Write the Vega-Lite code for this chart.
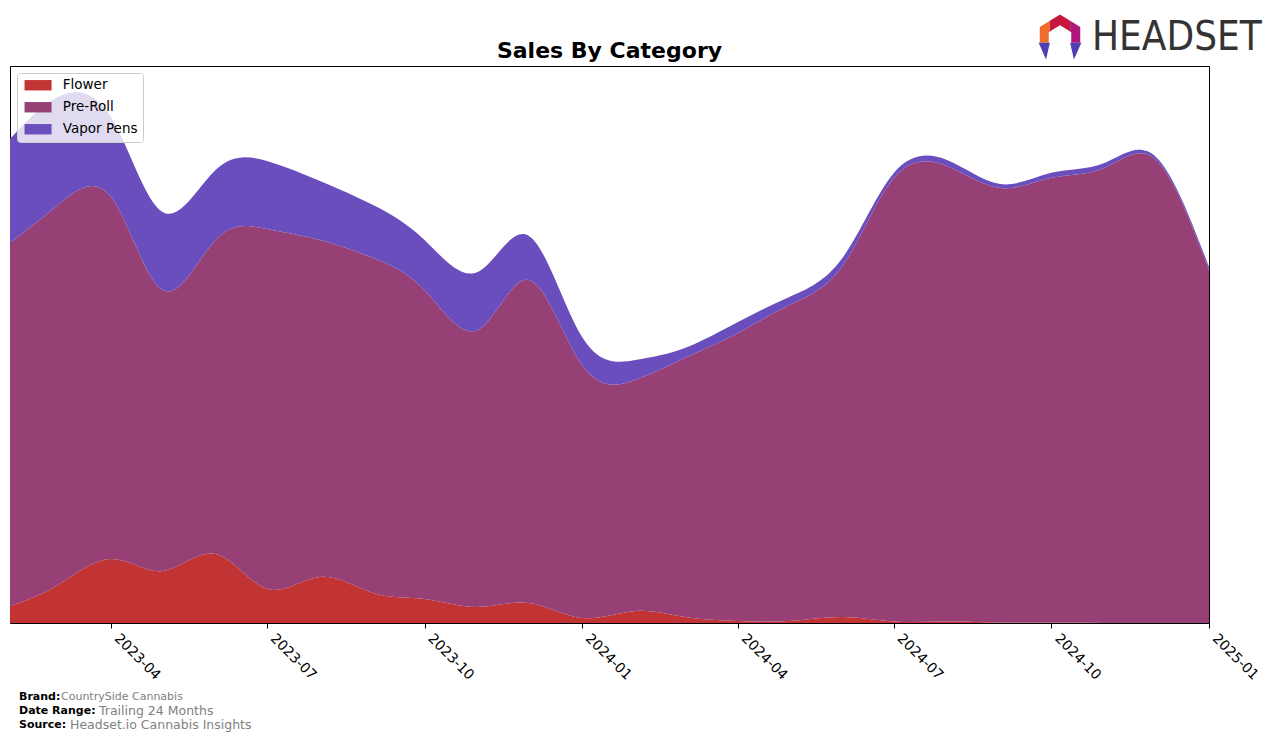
{
  "$schema": "https://vega.github.io/schema/vega-lite/v6.json",
  "width": 1199,
  "height": 557,
  "autosize": {"type": "none"},
  "padding": {"left": 10, "top": 66, "right": 67, "bottom": 119},
  "background": "white",
  "config": {
    "font": "DejaVu Sans",
    "view": {"stroke": "black", "strokeWidth": 1}
  },
  "layer": [
    {
      "data": {
        "values": [
          {"date": "2023-02-01", "category": "Flower", "sales": 17},
          {"date": "2023-03-01", "category": "Flower", "sales": 38},
          {"date": "2023-04-01", "category": "Flower", "sales": 64},
          {"date": "2023-05-01", "category": "Flower", "sales": 52},
          {"date": "2023-06-01", "category": "Flower", "sales": 69},
          {"date": "2023-07-01", "category": "Flower", "sales": 34},
          {"date": "2023-08-01", "category": "Flower", "sales": 46},
          {"date": "2023-09-01", "category": "Flower", "sales": 30},
          {"date": "2023-10-01", "category": "Flower", "sales": 24},
          {"date": "2023-11-01", "category": "Flower", "sales": 16},
          {"date": "2023-12-01", "category": "Flower", "sales": 20},
          {"date": "2024-01-01", "category": "Flower", "sales": 5},
          {"date": "2024-02-01", "category": "Flower", "sales": 12},
          {"date": "2024-03-01", "category": "Flower", "sales": 6},
          {"date": "2024-04-01", "category": "Flower", "sales": 2},
          {"date": "2024-05-01", "category": "Flower", "sales": 2},
          {"date": "2024-06-01", "category": "Flower", "sales": 6},
          {"date": "2024-07-01", "category": "Flower", "sales": 1.5},
          {"date": "2024-08-01", "category": "Flower", "sales": 1.5},
          {"date": "2024-09-01", "category": "Flower", "sales": 0.5},
          {"date": "2024-10-01", "category": "Flower", "sales": 0.2},
          {"date": "2024-11-01", "category": "Flower", "sales": 0.1},
          {"date": "2024-12-01", "category": "Flower", "sales": 0.1},
          {"date": "2025-01-01", "category": "Flower", "sales": 0.1},
          {"date": "2023-02-01", "category": "Pre-Roll", "sales": 363},
          {"date": "2023-03-01", "category": "Pre-Roll", "sales": 380},
          {"date": "2023-04-01", "category": "Pre-Roll", "sales": 362},
          {"date": "2023-05-01", "category": "Pre-Roll", "sales": 281},
          {"date": "2023-06-01", "category": "Pre-Roll", "sales": 314},
          {"date": "2023-07-01", "category": "Pre-Roll", "sales": 360},
          {"date": "2023-08-01", "category": "Pre-Roll", "sales": 337},
          {"date": "2023-09-01", "category": "Pre-Roll", "sales": 335},
          {"date": "2023-10-01", "category": "Pre-Roll", "sales": 309},
          {"date": "2023-11-01", "category": "Pre-Roll", "sales": 277},
          {"date": "2023-12-01", "category": "Pre-Roll", "sales": 323},
          {"date": "2024-01-01", "category": "Pre-Roll", "sales": 253},
          {"date": "2024-02-01", "category": "Pre-Roll", "sales": 231},
          {"date": "2024-03-01", "category": "Pre-Roll", "sales": 259},
          {"date": "2024-04-01", "category": "Pre-Roll", "sales": 288},
          {"date": "2024-05-01", "category": "Pre-Roll", "sales": 316},
          {"date": "2024-06-01", "category": "Pre-Roll", "sales": 351},
          {"date": "2024-07-01", "category": "Pre-Roll", "sales": 443.5},
          {"date": "2024-08-01", "category": "Pre-Roll", "sales": 455.5},
          {"date": "2024-09-01", "category": "Pre-Roll", "sales": 434.5},
          {"date": "2024-10-01", "category": "Pre-Roll", "sales": 445},
          {"date": "2024-11-01", "category": "Pre-Roll", "sales": 455},
          {"date": "2024-12-01", "category": "Pre-Roll", "sales": 463},
          {"date": "2025-01-01", "category": "Pre-Roll", "sales": 353},
          {"date": "2023-02-01", "category": "Vapor Pens", "sales": 104},
          {"date": "2023-03-01", "category": "Vapor Pens", "sales": 108},
          {"date": "2023-04-01", "category": "Vapor Pens", "sales": 80},
          {"date": "2023-05-01", "category": "Vapor Pens", "sales": 78},
          {"date": "2023-06-01", "category": "Vapor Pens", "sales": 70},
          {"date": "2023-07-01", "category": "Vapor Pens", "sales": 68},
          {"date": "2023-08-01", "category": "Vapor Pens", "sales": 59},
          {"date": "2023-09-01", "category": "Vapor Pens", "sales": 53},
          {"date": "2023-10-01", "category": "Vapor Pens", "sales": 50},
          {"date": "2023-11-01", "category": "Vapor Pens", "sales": 58},
          {"date": "2023-12-01", "category": "Vapor Pens", "sales": 44},
          {"date": "2024-01-01", "category": "Vapor Pens", "sales": 28},
          {"date": "2024-02-01", "category": "Vapor Pens", "sales": 20},
          {"date": "2024-03-01", "category": "Vapor Pens", "sales": 10},
          {"date": "2024-04-01", "category": "Vapor Pens", "sales": 11},
          {"date": "2024-05-01", "category": "Vapor Pens", "sales": 8},
          {"date": "2024-06-01", "category": "Vapor Pens", "sales": 8},
          {"date": "2024-07-01", "category": "Vapor Pens", "sales": 5},
          {"date": "2024-08-01", "category": "Vapor Pens", "sales": 6},
          {"date": "2024-09-01", "category": "Vapor Pens", "sales": 4},
          {"date": "2024-10-01", "category": "Vapor Pens", "sales": 5},
          {"date": "2024-11-01", "category": "Vapor Pens", "sales": 5},
          {"date": "2024-12-01", "category": "Vapor Pens", "sales": 3},
          {"date": "2025-01-01", "category": "Vapor Pens", "sales": 3}
        ]
      },
      "mark": {"type": "area", "interpolate": "natural", "clip": true},
      "encoding": {
        "x": {
          "field": "date",
          "type": "temporal",
          "scale": {"type": "utc", "domain": [{"year": 2023, "month": 2, "date": 1, "utc": true}, {"year": 2025, "month": 1, "date": 1, "utc": true}]},
          "axis": {
            "title": null,
            "labelExpr": "utcFormat(datum.value, '%Y-%m')",
            "values": [
              {"year": 2023, "month": 4, "date": 1, "utc": true},
              {"year": 2023, "month": 7, "date": 1, "utc": true},
              {"year": 2023, "month": 10, "date": 1, "utc": true},
              {"year": 2024, "month": 1, "date": 1, "utc": true},
              {"year": 2024, "month": 4, "date": 1, "utc": true},
              {"year": 2024, "month": 7, "date": 1, "utc": true},
              {"year": 2024, "month": 10, "date": 1, "utc": true},
              {"year": 2025, "month": 1, "date": 1, "utc": true}
            ],
            "grid": false,
            "domain": false,
            "ticks": true,
            "tickColor": "black",
            "tickSize": 5,
            "labelAngle": 45,
            "labelAlign": "left",
            "labelBaseline": "top",
            "labelFontSize": 14,
            "labelColor": "black",
            "labelPadding": 3,
            "labelOffset": 10,
            "labelFlush": false,
            "labelOverlap": false
          }
        },
        "y": {
          "field": "sales",
          "type": "quantitative",
          "stack": "zero",
          "scale": {"domain": [0, 557], "nice": false, "zero": true},
          "axis": null
        },
        "color": {
          "field": "category",
          "type": "nominal",
          "scale": {"domain": ["Flower", "Pre-Roll", "Vapor Pens"], "range": ["#c23433", "#964076", "#6a4ebd"]},
          "legend": {
            "title": null,
            "orient": "top-left",
            "offset": 7,
            "padding": 5.5,
            "fillColor": "rgba(255,255,255,0.8)",
            "strokeColor": "#cccccc",
            "cornerRadius": 3,
            "symbolType": "M-2.6,-1L2.6,-1L2.6,1L-2.6,1Z",
            "symbolSize": 108,
            "symbolStrokeWidth": 0,
            "symbolOpacity": 1,
            "symbolOffset": 8.8,
            "labelOffset": 18,
            "labelFontSize": 13.5,
            "labelColor": "black",
            "rowPadding": 7
          }
        },
        "order": {"field": "category", "sort": "ascending"}
      }
    },
    {
      "data": {"values": [{"t": "Sales By Category"}]},
      "mark": {"type": "text", "font": "DejaVu Sans", "fontWeight": "bold", "fontSize": 22, "color": "black", "align": "center", "baseline": "alphabetic", "x": 599.5, "y": -8},
      "encoding": {"text": {"field": "t"}}
    },
    {
      "data": {"values": [{"t": "HEADSET"}]},
      "mark": {"type": "text", "font": "DejaVu Sans Condensed", "fontSize": 40, "color": "#333333", "align": "left", "baseline": "middle", "x": 1082, "y": -28},
      "encoding": {"text": {"field": "t"}}
    },
    {
      "data": {"values": [{"p": "left"}]},
      "mark": {"type": "point", "filled": true, "shape": "M-0.9,0.25L-0.9,-0.45L-0.45,-0.72L-0.45,-0.25L-0.5,-0.2L-0.5,0.25Z", "size": 2025, "color": "#ef6c2a", "opacity": 1, "x": 1050, "y": -29},
      "encoding": {}
    },
    {
      "data": {"values": [{"p": "top"}]},
      "mark": {"type": "point", "filled": true, "shape": "M-0.45,-0.72L0,-1L0.45,-0.72L0.45,-0.25L0,-0.52L-0.45,-0.25Z", "size": 2025, "color": "#c8173f", "opacity": 1, "x": 1050, "y": -29},
      "encoding": {}
    },
    {
      "data": {"values": [{"p": "right"}]},
      "mark": {"type": "point", "filled": true, "shape": "M0.45,-0.72L0.9,-0.45L0.9,0.25L0.5,0.25L0.5,-0.2L0.45,-0.25Z", "size": 2025, "color": "#b0177a", "opacity": 1, "x": 1050, "y": -29},
      "encoding": {}
    },
    {
      "data": {"values": [{"p": "legs"}]},
      "mark": {"type": "point", "filled": true, "shape": "M-0.95,0.25L-0.45,0.25L-0.62,1Z M0.45,0.25L0.95,0.25L0.62,1Z", "size": 2025, "color": "#4d3fb5", "opacity": 1, "x": 1050, "y": -29},
      "encoding": {}
    },
    {
      "data": {"values": [{"label": "Brand:", "value": "CountrySide Cannabis"}]},
      "layer": [
        {"mark": {"type": "text", "font": "DejaVu Sans", "fontWeight": "bold", "fontSize": 11, "color": "black", "align": "left", "baseline": "middle", "x": 9, "y": 631}, "encoding": {"text": {"field": "label"}}},
        {"mark": {"type": "text", "font": "DejaVu Sans", "fontSize": 11, "color": "#808080", "align": "left", "baseline": "middle", "x": 51, "y": 631}, "encoding": {"text": {"field": "value"}}}
      ]
    },
    {
      "data": {"values": [{"label": "Date Range:", "value": "Trailing 24 Months"}]},
      "layer": [
        {"mark": {"type": "text", "font": "DejaVu Sans", "fontWeight": "bold", "fontSize": 11, "color": "black", "align": "left", "baseline": "middle", "x": 9, "y": 645}, "encoding": {"text": {"field": "label"}}},
        {"mark": {"type": "text", "font": "DejaVu Sans", "fontSize": 12.5, "color": "#808080", "align": "left", "baseline": "middle", "x": 89, "y": 645}, "encoding": {"text": {"field": "value"}}}
      ]
    },
    {
      "data": {"values": [{"label": "Source:", "value": "Headset.io Cannabis Insights"}]},
      "layer": [
        {"mark": {"type": "text", "font": "DejaVu Sans", "fontWeight": "bold", "fontSize": 11, "color": "black", "align": "left", "baseline": "middle", "x": 9, "y": 659}, "encoding": {"text": {"field": "label"}}},
        {"mark": {"type": "text", "font": "DejaVu Sans", "fontSize": 12.5, "color": "#808080", "align": "left", "baseline": "middle", "x": 60, "y": 659}, "encoding": {"text": {"field": "value"}}}
      ]
    }
  ]
}
